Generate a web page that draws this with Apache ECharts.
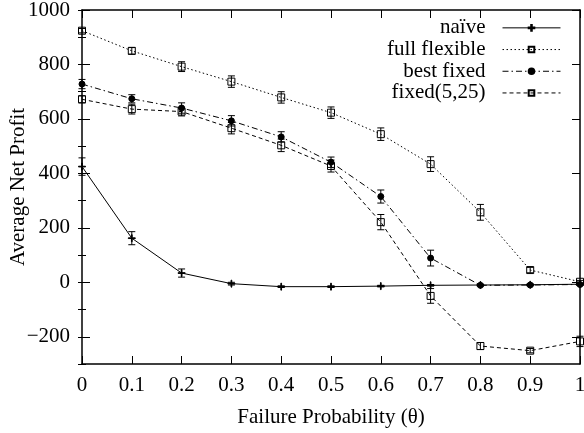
<!DOCTYPE html>
<html>
<head>
<meta charset="utf-8"/>
<title>Average Net Profit</title>
<script src="https://cdn.jsdelivr.net/npm/echarts@6/dist/echarts.min.js"></script>
<style>
html, body { margin: 0; padding: 0; background: #fff; }
#main { width: 584px; height: 433px; }
</style>
</head>
<body>
<div id="main"></div>
<script type="text/javascript">
// failure probability
var probs = [0, 0.1, 0.2, 0.3, 0.4, 0.5, 0.6, 0.7, 0.8, 0.9, 1];

var naive       = [425, 162, 34, -5, -16, -16, -14, -11, -10, -9, -7];
var naiveErr    = [32, 24, 15, 5, 3, 3, 3, 3, 3, 3, 3];
var fullFlex    = [924, 850, 792, 737, 679, 623, 544, 434, 257, 45, 2];
var fullFlexErr = [8, 12, 18, 21, 21, 21, 23, 27, 29, 10, 5];
var bestFixed   = [728, 674, 640, 593, 534, 441, 315, 89, -11, -10, -8];
var bestFixErr  = [17, 15, 19, 19, 19, 19, 24, 29, 3, 3, 3];
var fixed525    = [672, 636, 627, 566, 503, 427, 221, -50, -234, -251, -217];
var fixedErr    = [13, 18, 16, 21, 23, 22, 28, 27, 13, 8, 19];

var yLabels = [-200, 0, 200, 400, 600, 800, 1000];

var font = 'Liberation Serif';
var fs = 21;
var squarePath = 'path://M0,0L10,0L10,10L0,10Z';
var plusPath = 'path://M4.5,0L5.5,0L5.5,4.5L10,4.5L10,5.5L5.5,5.5L5.5,10L4.5,10L4.5,5.5L0,5.5L0,4.5L4.5,4.5Z';

function pairs(ys) {
	return probs.map(function (x, i) { return [x, ys[i]]; });
}
function errPairs(ys, es) {
	return probs.map(function (x, i) { return [x, ys[i] - es[i], ys[i] + es[i]]; });
}

function errorBars(name, ys, es) {
	return {
		name: name + ' err',
		type: 'custom',
		data: errPairs(ys, es),
		z: 3,
		silent: true,
		renderItem: function (params, api) {
			var lo = api.coord([api.value(0), api.value(1)]);
			var hi = api.coord([api.value(0), api.value(2)]);
			var w = 3.5;
			var st = { stroke: '#000', lineWidth: 1 };
			return {
				type: 'group',
				children: [
					{ type: 'line', shape: { x1: lo[0], y1: lo[1], x2: hi[0], y2: hi[1] }, style: st },
					{ type: 'line', shape: { x1: lo[0] - w, y1: lo[1], x2: lo[0] + w, y2: lo[1] }, style: st },
					{ type: 'line', shape: { x1: hi[0] - w, y1: hi[1], x2: hi[0] + w, y2: hi[1] }, style: st }
				]
			};
		}
	};
}

function lineSeries(name, ys, dash, symbol, size, fill) {
	return {
		name: name,
		type: 'line',
		data: pairs(ys),
		symbol: symbol,
		symbolSize: size,
		showAllSymbol: true,
		z: 4,
		lineStyle: { color: '#000', width: 1, type: dash },
		itemStyle: { color: fill, borderColor: '#000', borderWidth: 1 },
		emphasis: { disabled: true }
	};
}

var myChart = echarts.init(document.getElementById('main'));

var axisLine = { show: true, onZero: false, lineStyle: { color: '#000', width: 1.5 } };
var baseY = { type: 'value', min: -300, max: 1000, interval: 100, splitLine: { show: false } };

var option = {
	animation: false,
	backgroundColor: '#fff',
	grid: { left: 82, right: 4, top: 10, bottom: 69, containLabel: false, outerBoundsMode: 'none' },
	legend: {
		orient: 'vertical',
		align: 'right',
		right: 18,
		top: 12,
		itemWidth: 58,
		itemHeight: 7,
		itemGap: 0,
		lineStyle: { width: 1 },
		textStyle: { fontFamily: font, fontSize: fs, lineHeight: 21.7, color: '#000', padding: [0, 12, 0, 0] },
		data: ['naïve', 'full flexible', 'best fixed', 'fixed(5,25)']
	},
	xAxis: [
		{
			type: 'value', min: 0, max: 1, interval: 0.1, position: 'bottom',
			name: 'Failure Probability (θ)', nameLocation: 'middle', nameGap: 43, nameMoveOverlap: false,
			nameTextStyle: { fontFamily: font, fontSize: fs, color: '#000' },
			axisLine: axisLine,
			axisTick: { inside: true, length: 8, lineStyle: { color: '#000' } },
			axisLabel: {
				fontFamily: font, fontSize: fs, color: '#000', margin: 11,
				formatter: function (v) { return (v === 0 || v === 1) ? String(v) : v.toFixed(1); }
			},
			splitLine: { show: false }
		},
		{
			type: 'value', min: 0, max: 1, interval: 0.1, position: 'top',
			axisLine: axisLine,
			axisTick: { inside: true, length: 8, lineStyle: { color: '#000' } },
			axisLabel: { show: false },
			splitLine: { show: false }
		}
	],
	yAxis: [
		Object.assign({}, baseY, {
			position: 'left',
			name: 'Average Net Profit', nameLocation: 'middle', nameGap: 53, nameMoveOverlap: false,
			nameTextStyle: { fontFamily: font, fontSize: fs, color: '#000' },
			axisLine: axisLine,
			axisTick: { inside: true, length: 8, customValues: yLabels, lineStyle: { color: '#000' } },
			axisLabel: {
				fontFamily: font, fontSize: fs, color: '#000', margin: 12,
				customValues: yLabels,
				formatter: function (v) {
					return v < 0 ? '\u2212' + (-v) : String(v);
				}
			}
		}),
		Object.assign({}, baseY, {
			position: 'left',
			axisLine: { show: false },
			axisTick: { inside: true, length: 4, lineStyle: { color: '#000' } },
			axisLabel: { show: false }
		}),
		Object.assign({}, baseY, {
			position: 'right',
			axisLine: axisLine,
			axisTick: { inside: true, length: 8, customValues: yLabels, lineStyle: { color: '#000' } },
			axisLabel: { show: false }
		}),
		Object.assign({}, baseY, {
			position: 'right',
			axisLine: { show: false },
			axisTick: { inside: true, length: 4, lineStyle: { color: '#000' } },
			axisLabel: { show: false }
		})
	],
	series: [
		errorBars('naïve', naive, naiveErr),
		errorBars('full flexible', fullFlex, fullFlexErr),
		errorBars('best fixed', bestFixed, bestFixErr),
		errorBars('fixed(5,25)', fixed525, fixedErr),
		lineSeries('naïve', naive, 'solid', plusPath, 7, '#000'),
		lineSeries('full flexible', fullFlex, [1.5, 2.5], squarePath, 7, 'rgba(0,0,0,0)'),
		lineSeries('best fixed', bestFixed, [6, 3, 1.5, 3], 'circle', 6, '#000'),
		lineSeries('fixed(5,25)', fixed525, [4, 3], squarePath, 7, 'rgba(0,0,0,0)')
	]
};

myChart.setOption(option);
</script>
</body>
</html>
